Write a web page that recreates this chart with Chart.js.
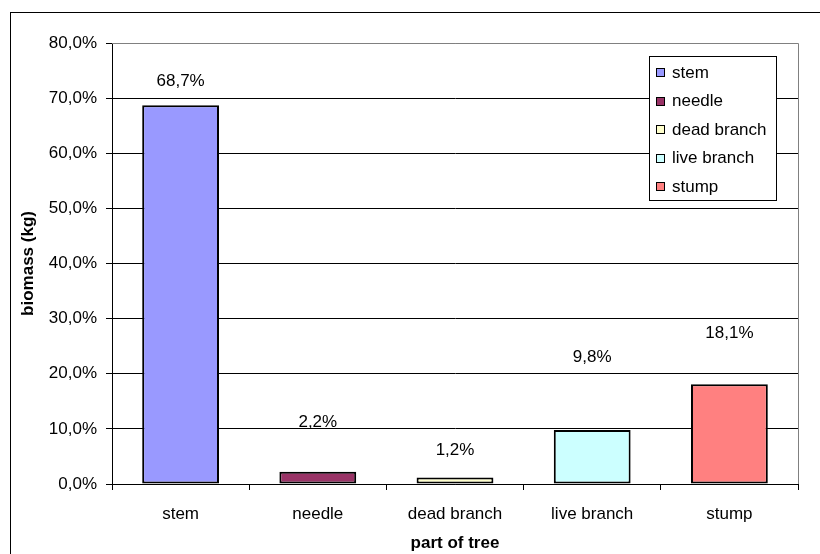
<!DOCTYPE html>
<html>
<head>
<meta charset="utf-8">
<script src="https://cdn.jsdelivr.net/npm/chart.js@4.4.1/dist/chart.umd.min.js"></script>
<style>
  html, body { margin: 0; padding: 0; background: #fff; overflow: hidden; }
  #wrap { width: 820px; height: 554px; }
</style>
</head>
<body>
<div id="wrap"><canvas id="barChart" width="820" height="554"></canvas></div>
<script>
// chart data
const parts = ['stem', 'needle', 'dead branch', 'live branch', 'stump'];
const biomassShare = [68.7, 2.2, 1.2, 9.8, 18.1];
const barColors = ['#9999FF', '#993366', '#FFFFCC', '#CCFFFF', '#FF8080'];
const yTicks = [0, 10, 20, 30, 40, 50, 60, 70, 80];

const FONT = '"Liberation Sans", Arial, sans-serif';
const FS = 17;

function pct(v) {
    return v.toFixed(1).replace('.', ',') + '%';
}

// value labels (Excel put them at these heights, in axis units)
const labelHeights = [73.1, 11.1, 6.2, 22.9, 27.4];

const valueLabels = {
    id: 'valueLabels',
    afterDatasetsDraw(chart) {
        const ctx = chart.ctx;
        const y = chart.scales.y;
        const meta = chart.getDatasetMeta(0);
        ctx.save();
        ctx.font = FS + 'px ' + FONT;
        ctx.fillStyle = '#000';
        ctx.textAlign = 'center';
        ctx.textBaseline = 'middle';
        meta.data.forEach((bar, i) => {
            ctx.fillText(pct(biomassShare[i]), bar.x, y.getPixelForValue(labelHeights[i]));
        });
        ctx.restore();
    }
};

// plot frame, outer border and the boxed legend inside the plot
const frame = {
    id: 'frame',
    beforeDatasetsDraw(chart) {
        const { ctx, chartArea: a } = chart;
        ctx.save();
        ctx.strokeStyle = '#808080';
        ctx.lineWidth = 1;
        ctx.beginPath();
        ctx.moveTo(a.left, Math.round(a.top) + 0.5);
        ctx.lineTo(Math.round(a.right) + 0.5, Math.round(a.top) + 0.5);
        ctx.lineTo(Math.round(a.right) + 0.5, a.bottom);
        ctx.stroke();
        ctx.restore();
    },
    afterDraw(chart) {
        const ctx = chart.ctx;
        ctx.save();
        ctx.strokeStyle = '#000';
        ctx.lineWidth = 1;
        ctx.strokeRect(10.5, 12.5, 900, 900);

        // legend
        const lx = 649, ly = 56, lw = 127, lh = 144;
        ctx.fillStyle = '#fff';
        ctx.fillRect(lx, ly, lw, lh);
        ctx.strokeRect(lx + 0.5, ly + 0.5, lw, lh);
        ctx.font = FS + 'px ' + FONT;
        ctx.textBaseline = 'middle';
        ctx.textAlign = 'left';
        chart.data.labels.forEach((lab, i) => {
            const cy = ly + 16 + i * 28.6;
            ctx.fillStyle = barColors[i];
            ctx.fillRect(656, Math.round(cy) - 4, 9, 9);
            ctx.strokeStyle = '#000';
            ctx.strokeRect(656.5, Math.round(cy) - 3.5, 8, 8);
            ctx.fillStyle = '#000';
            ctx.fillText(lab, 672, cy + 1);
        });
        ctx.restore();
    }
};

document.addEventListener('DOMContentLoaded', () => {
    const ctx = document.getElementById('barChart').getContext('2d');
    new Chart(ctx, {
        type: 'bar',
        data: {
            labels: parts,
            datasets: [{
                data: biomassShare,
                backgroundColor: barColors,
                borderColor: '#000',
                borderWidth: 2,
                borderSkipped: false,
                categoryPercentage: 1,
                barPercentage: 0.56
            }]
        },
        options: {
            responsive: false,
            animation: false,
            layout: { padding: { left: 10, top: 43, right: 22, bottom: 0 } },
            plugins: {
                legend: { display: false },
                tooltip: { enabled: false }
            },
            scales: {
                x: {
                    grid: {
                        offset: true,
                        drawOnChartArea: false,
                        drawTicks: true,
                        tickLength: 6,
                        tickColor: '#000'
                    },
                    border: { color: '#000', width: 1 },
                    ticks: {
                        color: '#000',
                        font: { family: FONT, size: FS },
                        padding: 14,
                        maxRotation: 0
                    },
                    title: {
                        display: true,
                        text: 'part of tree',
                        color: '#000',
                        font: { family: FONT, size: FS, weight: 'bold' },
                        padding: { top: 0, bottom: 0 }
                    },
                    afterFit(scale) { scale.height = 70; }
                },
                y: {
                    min: 0,
                    max: 80,
                    afterBuildTicks(scale) {
                        scale.ticks = yTicks.map(v => ({ value: v }));
                    },
                    grid: {
                        color: c => (c.tick && c.tick.value === 80 ? '#808080' : '#000'),
                        tickColor: '#000',
                        tickLength: 6
                    },
                    border: { color: '#000', width: 1 },
                    ticks: {
                        color: '#000',
                        font: { family: FONT, size: FS },
                        padding: 9,
                        callback: v => pct(v)
                    },
                    title: {
                        display: true,
                        text: 'biomass (kg)',
                        color: '#000',
                        font: { family: FONT, size: FS, weight: 'bold' },
                        padding: { top: 8, bottom: 0 }
                    },
                    afterFit(scale) { scale.width = 102; }
                }
            }
        },
        plugins: [frame, valueLabels]
    });
});
</script>
</body>
</html>
